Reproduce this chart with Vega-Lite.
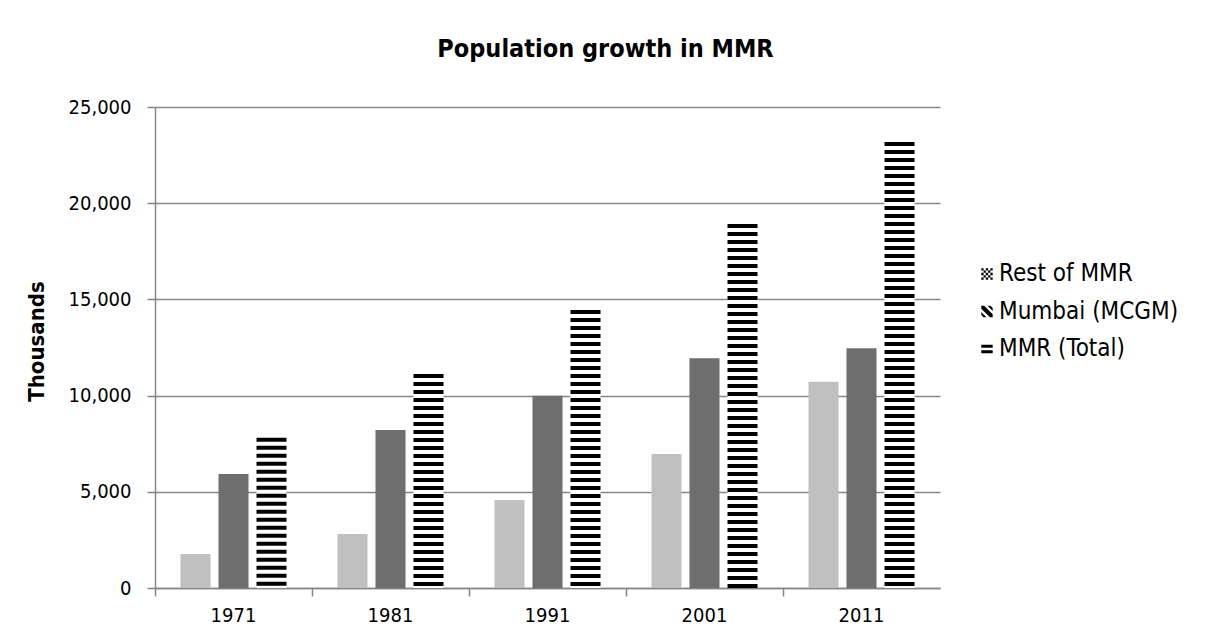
{
  "$schema": "https://vega.github.io/schema/vega-lite/v6.json",
  "width": 785,
  "height": 481,
  "autosize": {"type": "none"},
  "padding": {"left": 155, "top": 107, "right": 266, "bottom": 48},
  "background": "#ffffff",
  "title": {
    "text": "Population growth  in MMR",
    "font": "Liberation Sans Narrow, DejaVu Sans Condensed, Liberation Sans",
    "fontSize": 25,
    "fontWeight": "bold",
    "color": "#000000",
    "anchor": "middle",
    "frame": "group",
    "dx": 58,
    "baseline": "alphabetic",
    "offset": 15
  },
  "config": {
    "view": {"stroke": null},
    "font": "Liberation Sans Narrow, DejaVu Sans Condensed, Liberation Sans",
    "axis": {
      "labelFont": "Liberation Sans Narrow, DejaVu Sans Condensed, Liberation Sans",
      "titleFont": "Liberation Sans Narrow, DejaVu Sans Condensed, Liberation Sans",
      "labelColor": "#000000",
      "titleColor": "#000000",
      "domainColor": "#868686",
      "tickColor": "#868686",
      "gridColor": "#868686",
      "domainWidth": 1.5,
      "tickWidth": 1.5,
      "gridWidth": 1.5
    }
  },
  "data": {
    "values": [
      {"year": "1971", "series": "Rest of MMR", "value": 1770},
      {"year": "1971", "series": "Mumbai (MCGM)", "value": 5930},
      {"year": "1971", "series": "MMR (Total)", "value": 7810},
      {"year": "1981", "series": "Rest of MMR", "value": 2810},
      {"year": "1981", "series": "Mumbai (MCGM)", "value": 8210},
      {"year": "1981", "series": "MMR (Total)", "value": 11120},
      {"year": "1991", "series": "Rest of MMR", "value": 4570},
      {"year": "1991", "series": "Mumbai (MCGM)", "value": 9990},
      {"year": "1991", "series": "MMR (Total)", "value": 14450},
      {"year": "2001", "series": "Rest of MMR", "value": 6960},
      {"year": "2001", "series": "Mumbai (MCGM)", "value": 11940},
      {"year": "2001", "series": "MMR (Total)", "value": 18920},
      {"year": "2011", "series": "Rest of MMR", "value": 10720},
      {"year": "2011", "series": "Mumbai (MCGM)", "value": 12460},
      {"year": "2011", "series": "MMR (Total)", "value": 23180}
    ]
  },
  "encoding": {
    "x": {
      "field": "year",
      "type": "nominal",
      "scale": {"paddingInner": 0, "paddingOuter": 0},
      "axis": {
        "title": null,
        "labelAngle": 0,
        "labelFontSize": 20,
        "bandPosition": 0,
        "tickSize": 8,
        "labelPadding": 9,
        "grid": false
      }
    },
    "xOffset": {
      "field": "series",
      "type": "nominal",
      "scale": {
        "domain": ["Rest of MMR", "Mumbai (MCGM)", "MMR (Total)"],
        "paddingInner": 0.21,
        "paddingOuter": 0.67
      }
    },
    "y": {
      "field": "value",
      "type": "quantitative",
      "scale": {"domain": [0, 25000], "nice": false},
      "axis": {
        "title": "Thousands",
        "titleFontSize": 22,
        "titleFontWeight": "bold",
        "titlePadding": 20,
        "titleY": 234,
        "labelFontSize": 20,
        "values": [0, 5000, 10000, 15000, 20000, 25000],
        "format": ",d",
        "tickSize": 8,
        "labelPadding": 16,
        "grid": true
      }
    }
  },
  "layer": [
    {
      "mark": {"type": "bar"},
      "encoding": {
        "fill": {
          "condition": [
            {"test": "datum.series === 'Rest of MMR'", "value": "#c0c0c0"},
            {"test": "datum.series === 'Mumbai (MCGM)'", "value": "#6e6e6e"}
          ],
          "value": "#ffffff"
        }
      }
    },
    {
      "transform": [{"filter": "datum.series === 'MMR (Total)'"}],
      "mark": {"type": "rule", "strokeWidth": 30, "strokeDash": [4, 4], "strokeCap": "butt"},
      "encoding": {
        "y2": {"datum": 0},
        "stroke": {
          "field": "series",
          "type": "nominal",
          "scale": {
            "domain": ["Rest of MMR", "Mumbai (MCGM)", "MMR (Total)"],
            "range": ["#000000", "#000000", "#000000"]
          },
          "legend": {
            "title": null,
            "orient": "none",
            "legendX": 820,
            "legendY": 155,
            "labelFontSize": 24,
            "labelLimit": 400,
            "labelColor": "#000000",
            "labelFont": "Liberation Sans Narrow, DejaVu Sans Condensed, Liberation Sans",
            "symbolSize": 130,
            "symbolStrokeWidth": 0,
            "labelOffset": 0,
            "rowPadding": 13.5,
            "encode": {
              "symbols": {
                "update": {
                  "fill": {"value": "#000000"},
                  "fillOpacity": {"value": 1},
                  "opacity": {"value": 1},
                  "strokeWidth": {"value": 0},
                  "strokeDash": {"value": []},
                  "shape": {
                    "signal": "datum.value === 'Rest of MMR' ? 'M-1,-1h0.4v0.4h-0.4z M-0.2,-1h0.4v0.4h-0.4z M0.6,-1h0.4v0.4h-0.4z M-0.6,-0.6h0.4v0.4h-0.4z M0.2,-0.6h0.4v0.4h-0.4z M-1,-0.2h0.4v0.4h-0.4z M-0.2,-0.2h0.4v0.4h-0.4z M0.6,-0.2h0.4v0.4h-0.4z M-0.6,0.2h0.4v0.4h-0.4z M0.2,0.2h0.4v0.4h-0.4z M-1,0.6h0.4v0.4h-0.4z M-0.2,0.6h0.4v0.4h-0.4z M0.6,0.6h0.4v0.4h-0.4z' : datum.value === 'Mumbai (MCGM)' ? 'M-1,-1L-0.5,-1L1,0.5L1,1L0.5,1L-1,-0.5Z M0.1,-1L0.6,-1L1,-0.6L1,-0.1Z M-1,0.1L-1,0.6L-0.6,1L-0.1,1Z' : 'M-1,-0.75H1V-0.2H-1Z M-1,0.2H1V0.75H-1Z'"
                  }
                }
              }
            }
          }
        }
      }
    }
  ]
}
